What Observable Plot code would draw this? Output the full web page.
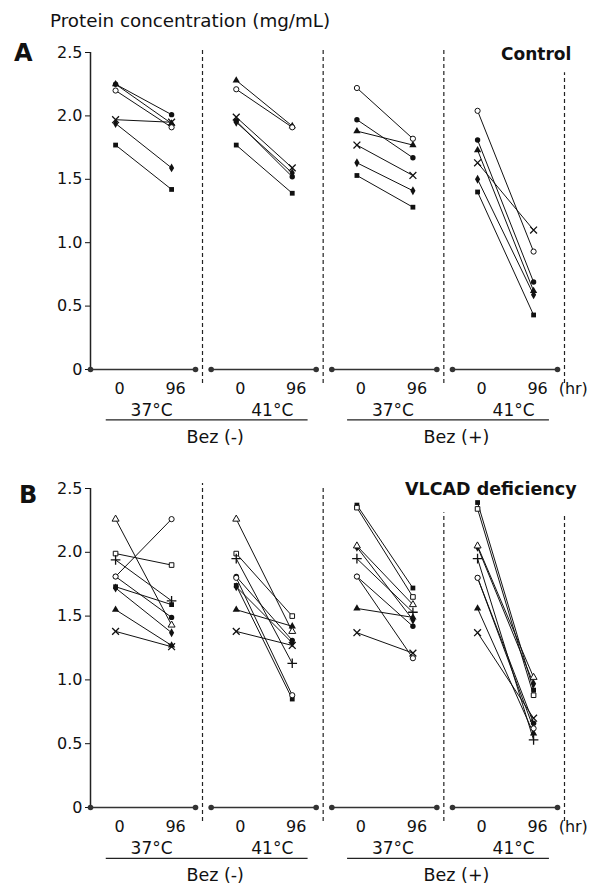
<!DOCTYPE html>
<html><head><meta charset="utf-8">
<script src="https://cdn.jsdelivr.net/npm/d3@7"></script>
<script src="https://cdn.jsdelivr.net/npm/@observablehq/plot@0.6"></script>
<style>
body{margin:0;background:#fff;}
#page{position:relative;width:602px;height:886px;overflow:hidden;font-family:"DejaVu Sans",sans-serif;color:#111;background:#fff;}
.lbl{position:absolute;white-space:nowrap;line-height:1;}
#panelA,#panelB{position:absolute;left:0;}
#panelA{top:0}
#panelB{top:445px}
</style></head><body>
<div id="page">
  <div id="panelA"></div>
  <div id="panelB"></div>
  <div class="lbl" style="left:50px;top:12px;font-size:18.3px">Protein concentration (mg/mL)</div>
  <div class="lbl" style="left:14px;top:41px;font-size:24px;font-weight:bold">A</div>
  <div class="lbl" style="left:501px;top:46px;font-size:17px;font-weight:bold">Control</div>
  <div class="lbl" style="left:19px;top:483px;font-size:24px;font-weight:bold">B</div>
  <div class="lbl" style="left:405px;top:481px;font-size:17.5px;font-weight:bold">VLCAD deficiency</div>
</div>
<script>
// ---- data ----
const conditions = ["37°C Bez(-)", "41°C Bez(-)", "37°C Bez(+)", "41°C Bez(+)"];
const temperatures = ["37°C", "41°C", "37°C", "41°C"];
const bezGroups = ["Bez (-)", "Bez (+)"];
const hours = [0, 96];
const yTicks = [0, 0.5, 1.0, 1.5, 2.0, 2.5];

// Control cell lines (panel A)
const controlSubjects = ["C1", "C2", "C3", "C4", "C5", "C6"];
const controlSymbols  = ["triangle", "circle", "circle", "times", "diamond", "square"];
const controlStyle    = ["filled", "filled", "open", "stroke", "filled", "filled"];
// values at 0 hr and 96 hr, per condition, per subject
const control0h = [
  [2.25, 2.25, 2.20, 1.97, 1.94, 1.77],
  [2.28, 1.96, 2.21, 1.99, 1.95, 1.77],
  [1.88, 1.97, 2.22, 1.77, 1.63, 1.53],
  [1.73, 1.81, 2.04, 1.63, 1.50, 1.40]
];
const control96h = [
  [1.94, 2.01, 1.91, 1.95, 1.59, 1.42],
  [1.92, 1.52, 1.91, 1.59, 1.55, 1.39],
  [1.77, 1.67, 1.82, 1.53, 1.41, 1.28],
  [0.62, 0.69, 0.93, 1.10, 0.59, 0.43]
];

// VLCAD-deficient patients (panel B)
const vlcadSubjects = ["P1", "P2", "P3", "P4", "P5", "P6", "P7", "P8", "P9"];
const vlcadSymbols  = ["triangle", "circle", "square", "plus", "circle", "square", "diamond", "triangle", "times"];
const vlcadStyle    = ["open", "open", "open", "stroke", "filled", "filled", "filled", "filled", "stroke"];
const vlcad0h = [
  [2.26, 1.81, 1.99, 1.94, 1.81, 1.73, 1.72, 1.55, 1.38],
  [2.26, 1.80, 1.99, 1.95, 1.81, 1.74, 1.73, 1.55, 1.38],
  [2.05, 1.81, 2.35, 1.95, 1.81, 2.37, 2.04, 1.56, 1.37],
  [2.05, 1.80, 2.34, 1.95, 1.80, 2.39, 2.04, 1.56, 1.37]
];
const vlcad96h = [
  [1.43, 2.26, 1.90, 1.62, 1.49, 1.59, 1.37, 1.27, 1.26],
  [1.38, 0.88, 1.50, 1.13, 1.31, 0.85, 1.29, 1.42, 1.27],
  [1.59, 1.17, 1.65, 1.53, 1.42, 1.72, 1.47, 1.49, 1.21],
  [1.02, 0.62, 0.88, 0.53, 0.66, 0.92, 0.97, 0.58, 0.70]
];

// ---- chart ----
const xDomain = [-43, 137];
const ink = "#111";

function rowsFor(subjects, symbols, styles, v0, v96) {
  const rows = [];
  conditions.forEach((c, ci) => {
    subjects.forEach((s, si) => {
      [v0[ci][si], v96[ci][si]].forEach((v, hi) => {
        rows.push({cond: c, subject: s, hour: hours[hi], value: v, symbol: symbols[si], style: styles[si]});
      });
    });
  });
  return rows;
}

function panel(rows, symbols, sepTops, height, marginTop, marginBottom) {
  const symDomain = Array.from(new Set(symbols));
  return Plot.plot({
    width: 602,
    height,
    marginTop,
    marginBottom,
    marginLeft: 90,
    marginRight: 45,
    style: {fontFamily: "DejaVu Sans", fontSize: "16px", color: ink, background: "white", overflow: "visible"},
    fx: {domain: conditions, paddingInner: 0.1298, paddingOuter: 0, round: false, axis: null, label: null},
    x: {domain: xDomain, axis: null},
    y: {domain: [0, 2.5], ticks: yTicks, tickFormat: d => d === 0 ? "0" : d.toFixed(1), tickSize: 5, tickPadding: 3, label: null},
    symbol: {domain: symDomain, range: symDomain},
    marks: [
      // y axis line (first facet only)
      Plot.ruleX([{c: conditions[0]}], {fx: "c", x: xDomain[0], y1: 0, y2: 2.5, stroke: "#222", strokeWidth: 1.5}),
      // dashed separators
      Plot.ruleX(conditions.map((c, i) => ({c, top: sepTops[i]})), {fx: "c", x: 149, y1: -0.11, y2: "top", stroke: "#222", strokeWidth: 1.2, strokeDasharray: "4,3"}),
      // baseline with end dots
      Plot.ruleY([0], {x1: xDomain[0], x2: xDomain[1], stroke: "#333", strokeWidth: 1.6}),
      Plot.dot(xDomain, {x: d => d, y: 0, r: 2.8, fill: "#333", stroke: "none"}),
      // paired lines
      Plot.line(rows, {fx: "cond", x: "hour", y: "value", z: "subject", stroke: ink, strokeWidth: 1}),
      // markers
      Plot.dot(rows.filter(d => d.style === "filled"), {fx: "cond", x: "hour", y: "value", symbol: "symbol", r: 2.7, fill: ink, stroke: "none"}),
      Plot.dot(rows.filter(d => d.style === "open"), {fx: "cond", x: "hour", y: "value", symbol: "symbol", r: 2.6, fill: "white", stroke: ink, strokeWidth: 1}),
      Plot.dot(rows.filter(d => d.style === "stroke"), {fx: "cond", x: "hour", y: "value", symbol: "symbol", r: 3.2, fill: "none", stroke: ink, strokeWidth: 1.3}),
      // x tick labels
      Plot.text(hours, {x: d => d, y: -0.155, text: d => String(d), dx: 4, fontSize: 16, fill: ink}),
      Plot.text([{c: conditions[3]}], {fx: "c", x: 164, y: -0.155, text: () => "(hr)", fontSize: 16, fill: ink}),
      // temperature labels
      Plot.text(conditions.map((c, i) => ({c, t: temperatures[i]})), {fx: "c", x: 48, dx: 8, y: -0.325, text: "t", fontSize: 17, fill: ink}),
      // Bez group underline + labels
      Plot.ruleY([{c: conditions[0]}, {c: conditions[2]}], {fx: "c", y: -0.398, x1: -16, x2: 330, stroke: "#222", strokeWidth: 1.3}),
      Plot.text([{c: conditions[0], t: bezGroups[0]}, {c: conditions[2], t: bezGroups[1]}], {fx: "c", x: 157, dx: 8, y: -0.535, text: "t", fontSize: 17.5, fill: ink})
    ]
  });
}

const rowsA = rowsFor(controlSubjects, controlSymbols, controlStyle, control0h, control96h);
const rowsB = rowsFor(vlcadSubjects, vlcadSymbols, vlcadStyle, vlcad0h, vlcad96h);

document.getElementById("panelA").appendChild(panel(rowsA, controlSymbols, [2.54, 2.52, 2.52, 2.34], 445, 52, 76));
document.getElementById("panelB").appendChild(panel(rowsB, vlcadSymbols, [2.54, 2.52, 2.31, 2.30], 441, 43, 79));
</script>
</body></html>
